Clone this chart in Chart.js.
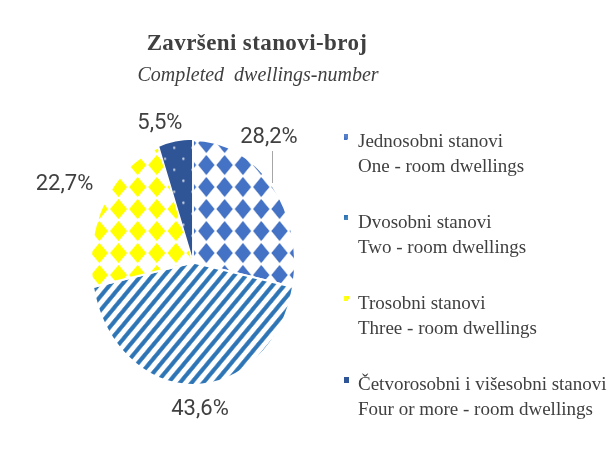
<!DOCTYPE html>
<html>
<head>
<meta charset="utf-8">
<script src="https://cdn.jsdelivr.net/npm/chart.js@4"></script>
<style>
html,body{margin:0;padding:0;background:#fff;}
#wrap{position:relative;width:613px;height:464px;}
</style>
</head>
<body>
<div id="wrap"><canvas id="c" width="613" height="464"></canvas></div>
<script>
const titleText = "Završeni stanovi-broj";
const subtitleText = "Completed  dwellings-number";
const categoriesLocal = ["Jednosobni stanovi", "Dvosobni stanovi", "Trosobni stanovi", "Četvorosobni i višesobni stanovi"];
const categoriesEnglish = ["One - room dwellings", "Two - room dwellings", "Three - room dwellings", "Four or more - room dwellings"];
const shares = [28.2, 43.6, 22.7, 5.5];
const valueLabels = ["28,2%", "43,6%", "22,7%", "5,5%"];

const SX = 0.832; // horizontal squash of the pie (ellipse)

function tile(w, h, draw) {
  const c = document.createElement('canvas');
  c.width = w; c.height = h;
  const g = c.getContext('2d');
  draw(g, w, h);
  return g;
}
const mainCtx = document.getElementById('c').getContext('2d');
function diamondPattern(color, w, h) {
  const t = tile(w, h, (g) => {
    g.fillStyle = '#fff'; g.fillRect(0, 0, w, h);
    g.fillStyle = color;
    g.beginPath();
    const cx = w / 2, cy = h / 2, a = w * 0.45, b = h * 0.45;
    g.moveTo(cx, cy - b); g.lineTo(cx + a, cy); g.lineTo(cx, cy + b); g.lineTo(cx - a, cy); g.closePath();
    g.fill();
  });
  return mainCtx.createPattern(t.canvas, 'repeat');
}
function stripePattern(color, s) {
  const t = tile(s, s, (g) => {
    g.fillStyle = '#fff'; g.fillRect(0, 0, s, s);
    g.strokeStyle = color; g.lineWidth = s * 0.32; g.lineCap = 'square';
    g.beginPath();
    g.moveTo(0, s); g.lineTo(s, 0);
    g.moveTo(-s / 2, s / 2); g.lineTo(s / 2, -s / 2);
    g.moveTo(s / 2, s * 1.5); g.lineTo(s * 1.5, s / 2);
    g.stroke();
  });
  return mainCtx.createPattern(t.canvas, 'repeat');
}
function dotPattern(color, w, h) {
  const t = tile(w, h, (g) => {
    g.fillStyle = color; g.fillRect(0, 0, w, h);
    g.fillStyle = 'rgba(255,255,255,0.8)';
    g.beginPath(); g.arc(w * 0.25, h * 0.25, 1.3, 0, Math.PI * 2); g.fill();
    g.beginPath(); g.arc(w * 0.75, h * 0.75, 1.3, 0, Math.PI * 2); g.fill();
  });
  return mainCtx.createPattern(t.canvas, 'repeat');
}
const baseColors = ['#4472C4', '#2E75B6', '#FFFF00', '#2F5597'];
const fills = [
  diamondPattern(baseColors[0], 22, 22),
  stripePattern(baseColors[1], 14),
  diamondPattern(baseColors[2], 23, 22),
  dotPattern(baseColors[3], 22, 22)
];

// label placement: radial factor and nudges (positions relative to each arc)
const labelPlace = [
  {k: 1.0, dx: -3, dy: -48, leader: true},
  {k: 1.2, dx: 7, dy: 0},
  {k: 1.3, dx: -13, dy: 0},
  {k: 1.15, dx: -13, dy: 0}
];

const ellipsePlugin = {
  id: 'ellipse',
  beforeDatasetsDraw(chart) {
    const a = chart.getDatasetMeta(0).data[0];
    const ctx = chart.ctx;
    ctx.save();
    ctx.translate(a.x, a.y); ctx.scale(SX, 1); ctx.translate(-a.x, -a.y);
  },
  afterDatasetsDraw(chart) {
    chart.ctx.restore();
    const ctx = chart.ctx;
    const meta = chart.getDatasetMeta(0);
    ctx.save();
    ctx.font = '22px "Liberation Sans Narrow", "Roboto", sans-serif';
    ctx.fillStyle = '#404040';
    ctx.textAlign = 'center';
    ctx.textBaseline = 'middle';
    meta.data.forEach((arc, i) => {
      const mid = (arc.startAngle + arc.endAngle) / 2;
      const r = arc.outerRadius;
      const p = labelPlace[i];
      const ex = arc.x + Math.cos(mid) * r * p.k * SX;
      const ey = arc.y + Math.sin(mid) * r * p.k;
      const lx = ex + p.dx, ly = ey + p.dy;
      if (p.leader) {
        ctx.strokeStyle = '#A6A6A6'; ctx.lineWidth = 1;
        ctx.beginPath(); ctx.moveTo(Math.round(ex) + 0.5, ey - 2); ctx.lineTo(Math.round(ex) + 0.5, ly + 14); ctx.stroke();
      }
      ctx.fillText(valueLabels[i], lx, ly);
    });
    ctx.restore();
  }
};

const textPlugin = {
  id: 'texts',
  afterDraw(chart) {
    const ctx = chart.ctx;
    ctx.save();
    ctx.fillStyle = '#404040';
    ctx.textAlign = 'center';
    ctx.textBaseline = 'alphabetic';
    ctx.font = 'bold 23px "Liberation Serif", serif';
    ctx.letterSpacing = '0.4px';
    ctx.fillText(titleText, 257, 50);
    ctx.letterSpacing = '0px';
    ctx.font = 'italic 20px "Liberation Serif", serif';
    ctx.fillText(subtitleText, 258, 81);
    // legend
    ctx.textAlign = 'left';
    ctx.font = '19px "Liberation Serif", serif';
    for (let i = 0; i < categoriesLocal.length; i++) {
      const y = 147 + i * 81;
      ctx.fillStyle = fills[i];
      ctx.fillRect(344, y - 13, 5, 6);
      ctx.fillStyle = baseColors[i];
      ctx.globalAlpha = 0.9;
      ctx.fillRect(344, y - 13, 4, 5);
      ctx.globalAlpha = 1;
      ctx.fillStyle = '#404040';
      ctx.fillText(categoriesLocal[i], 358, y);
      ctx.fillText(categoriesEnglish[i], 358, y + 25);
    }
    ctx.restore();
  }
};

new Chart(document.getElementById('c'), {
  type: 'pie',
  data: {
    labels: categoriesLocal,
    datasets: [{
      data: shares,
      backgroundColor: fills,
      borderColor: '#ffffff',
      borderWidth: 2,
      offset: [0, 0, 0, 3]
    }]
  },
  options: {
    responsive: false,
    animation: false,
    events: [],
    layout: {padding: {left: 68, top: 137, right: 295, bottom: 76}},
    plugins: {legend: {display: false}, title: {display: false}, tooltip: {enabled: false}}
  },
  plugins: [ellipsePlugin, textPlugin]
});
</script>
</body>
</html>
